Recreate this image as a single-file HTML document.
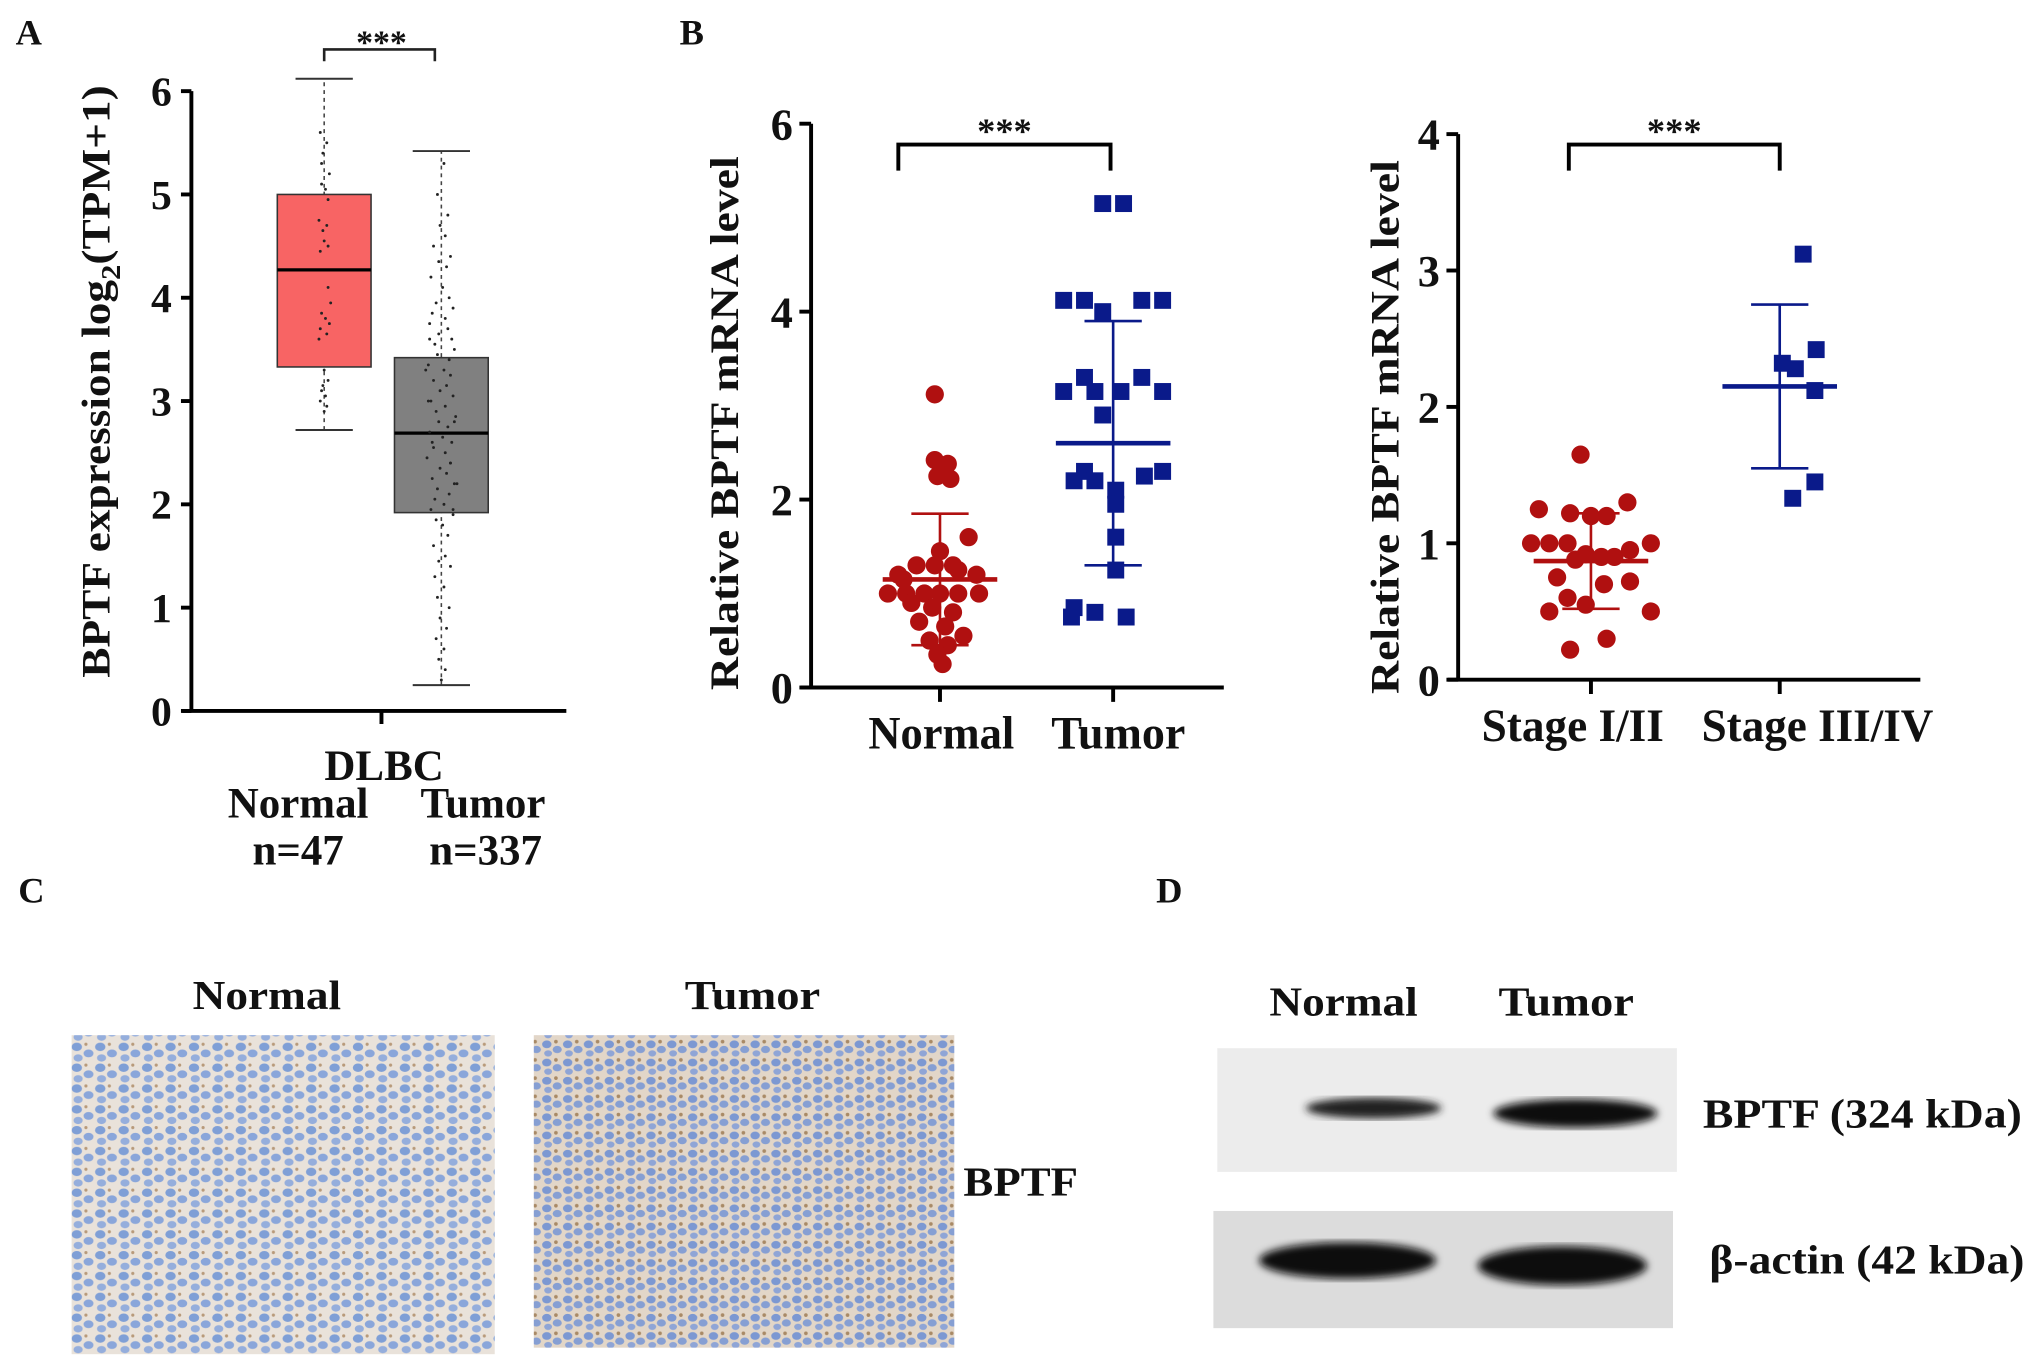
<!DOCTYPE html>
<html><head><meta charset="utf-8"><style>
html,body{margin:0;padding:0;background:#fff;}
svg{display:block;}
text{font-family:"Liberation Serif",serif;font-weight:bold;fill:#111;}
</style></head><body>
<svg id="fig" width="2031" height="1362" viewBox="0 0 1560 1046" preserveAspectRatio="none" xmlns="http://www.w3.org/2000/svg">
<defs>
<pattern id="cells" width="18" height="16" patternUnits="userSpaceOnUse">
<rect width="18" height="16" fill="#e9e2da"/>
<ellipse cx="5" cy="4" rx="4" ry="3.2" fill="#7f9fd6"/>
<ellipse cx="14" cy="9" rx="3.8" ry="3" fill="#8aa6da"/>
<ellipse cx="6" cy="12.5" rx="3.5" ry="2.8" fill="#95aedc"/>
<circle cx="12" cy="2" r="1.2" fill="#b89a7a"/>
</pattern>
<pattern id="cells2" width="16" height="14" patternUnits="userSpaceOnUse">
<rect width="16" height="14" fill="#e2d6c8"/>
<ellipse cx="4" cy="4" rx="3.6" ry="3" fill="#7c98d2"/>
<ellipse cx="12" cy="8" rx="3.5" ry="2.8" fill="#869fd3"/>
<ellipse cx="5" cy="11" rx="3" ry="2.4" fill="#8fa5d6"/>
<circle cx="11" cy="2" r="1.4" fill="#a98a66"/>
</pattern>
<filter id="blur"><feGaussianBlur stdDeviation="3"/></filter>
</defs>
<g id="root"></g>

<text x="12" y="34" font-size="28">A</text>
<text x="522" y="34" font-size="28">B</text>
<text x="14" y="693" font-size="28">C</text>
<text x="888" y="693" font-size="28">D</text>

<!-- C -->
<text x="205" y="775" font-size="32" text-anchor="middle" textLength="114" lengthAdjust="spacingAndGlyphs">Normal</text>
<text x="578" y="775" font-size="32" text-anchor="middle" textLength="104" lengthAdjust="spacingAndGlyphs">Tumor</text>
<rect x="55" y="795" width="325" height="245" fill="url(#cells)"/>
<rect x="410" y="795" width="323" height="240" fill="url(#cells2)"/>
<text x="740" y="918" font-size="32" textLength="88" lengthAdjust="spacingAndGlyphs">BPTF</text>

<!-- D -->
<text x="1032" y="780" font-size="32" text-anchor="middle" textLength="114" lengthAdjust="spacingAndGlyphs">Normal</text>
<text x="1203" y="780" font-size="32" text-anchor="middle" textLength="104" lengthAdjust="spacingAndGlyphs">Tumor</text>
<rect x="935" y="805" width="353" height="95" fill="#ececec"/>
<ellipse cx="1055" cy="851" rx="52" ry="8" fill="#222" filter="url(#blur)"/>
<ellipse cx="1210" cy="855" rx="63" ry="11" fill="#111" filter="url(#blur)"/>
<rect x="932" y="930" width="353" height="90" fill="#dcdcdc"/>
<ellipse cx="1035" cy="968" rx="68" ry="14" fill="#080808" filter="url(#blur)"/>
<ellipse cx="1200" cy="972" rx="65" ry="15" fill="#080808" filter="url(#blur)"/>
<text x="1308" y="866" font-size="32" textLength="245" lengthAdjust="spacingAndGlyphs">BPTF (324 kDa)</text>
<text x="1313" y="978" font-size="32" textLength="242" lengthAdjust="spacingAndGlyphs">β-actin (42 kDa)</text>

<script>
// ---------- Panel A data ----------
const aGroups = ['Normal', 'Tumor'];
const aMedian = [4.27, 2.69];
const aQ1 = [3.33, 1.92];
const aQ3 = [5.0, 3.42];
const aMin = [2.72, 0.25];
const aMax = [6.12, 5.42];
const aNormalPts = [5.6,5.5,5.4,5.2,5.1,5.05,4.95,4.75,4.7,4.65,4.55,4.5,4.45,3.95,3.85,3.8,3.75,3.7,3.65,3.6,3.3,3.2,3.1,3.05,3.0,2.95,2.9,3.15,4.1,5.3];
const aNormalJit = [-3,2,-1,4,-2,1,3,-4,2,-1,0,3,-3,5,-2,1,4,-3,2,-4,0,3,-2,1,-3,2,0,-1,3,-2];
const aTumorPts = [5.3,5.0,4.8,4.7,4.6,4.5,4.4,4.35,4.3,4.2,4.1,4.0,3.95,3.9,3.85,3.8,3.75,3.7,3.65,3.6,3.55,3.5,3.45,3.4,3.35,3.3,3.25,3.2,3.15,3.1,3.05,3.0,2.95,2.9,2.85,2.8,2.75,2.7,2.65,2.6,2.55,2.5,2.45,2.4,2.35,2.3,2.25,2.2,2.15,2.1,2.05,2.0,1.95,1.9,1.85,1.8,1.7,1.6,1.5,1.45,1.4,1.3,1.2,1.1,1.0,0.9,0.8,0.7,0.6,0.5,0.4,0.3,3.0,2.8,2.6,2.4,3.3,2.2,3.6,1.95];
const aTumorJit = [2,-3,5,-1,3,-6,7,-2,4,-8,1,6,-4,9,-7,3,-9,5,-2,8,-5,10,-3,6,-10,2,7,-6,4,-1,9,-8,3,-4,11,-2,5,-9,1,8,-6,3,-11,7,-1,4,-7,10,-3,6,-5,2,-8,9,-4,1,5,-6,3,-2,7,-5,2,-3,6,-1,4,-4,2,-2,3,0,-10,10,-7,7,-12,12,-9,9];
const aTicks = [0,1,2,3,4,5,6];

// ---------- Panel B1 data ----------
const b1Cats = ['Normal', 'Tumor'];
const b1Mean = [1.15, 2.6];
const b1Sd = [0.7, 1.3];
const b1NormalVals = [3.12,2.42,2.38,2.25,2.22,1.6,1.45,1.3,1.3,1.3,1.25,1.2,1.2,1.15,1.0,1.0,1.0,1.0,1.0,1.0,0.9,0.85,0.8,0.7,0.65,0.55,0.5,0.45,0.35,0.25];
const b1NormalOff = [-4,-4,6,-2,8,22,0,-18,-4,10,14,28,-32,-28,-40,-26,-12,0,14,30,-22,-6,10,-16,4,18,-8,6,-2,2];
const b1TumorVals = [5.15,5.15,4.12,4.12,4.12,4.12,4.0,3.3,3.3,3.15,3.15,3.15,3.15,2.9,2.3,2.3,2.25,2.2,2.2,2.1,1.95,1.6,1.25,0.85,0.8,0.75,0.75];
const b1TumorOff = [-8,8,-38,-22,22,38,-8,-22,22,-38,-14,6,38,-8,-22,38,24,-30,-14,2,2,2,2,-30,-14,10,-32];
const b1Ticks = [0,2,4,6];

// ---------- Panel B2 data ----------
const b2Cats = ['Stage I/II', 'Stage III/IV'];
const b2Mean = [0.87, 2.15];
const b2Sd = [0.35, 0.6];
const b2EarlyVals = [1.65,1.3,1.25,1.22,1.2,1.2,1.0,1.0,1.0,1.0,0.95,0.92,0.9,0.9,0.88,0.75,0.72,0.7,0.6,0.55,0.5,0.5,0.3,0.22];
const b2EarlyOff = [-8,28,-40,-16,0,12,-46,-32,-18,46,30,-4,8,18,-12,-26,30,10,-18,-4,-32,46,12,-16];
const b2LateVals = [3.12,2.42,2.32,2.28,2.12,1.45,1.33];
const b2LateOff = [18,28,2,12,27,27,10];
const b2Ticks = [0,1,2,3,4];

const NS = 'http://www.w3.org/2000/svg';
const root = document.getElementById('root');
function mk(tag, attrs, parent) {
  const e = document.createElementNS(NS, tag);
  for (const k in attrs) e.setAttribute(k, attrs[k]);
  (parent || root).appendChild(e);
  return e;
}
function lin(d0, d1, r0, r1) { return v => r0 + (v - d0) * (r1 - r0) / (d1 - d0); }

// ===== Panel A =====
(function () {
  const y = lin(0, 6, 546, 70);
  const xc = [249, 339];
  const boxW = 72;
  const g = mk('g', {});
  
  
  const colors = ['#f86464', '#808080'];
  for (let i = 0; i < aGroups.length; i++) {
    const w = mk('line', { x1: xc[i], x2: xc[i], y1: y(aMin[i]), y2: y(aMax[i]), stroke: '#444', 'stroke-width': 1.2, 'stroke-dasharray': '3,3' }, g);
    
    
    [aMin[i], aMax[i]].forEach(v => {
      const c = mk('line', { x1: xc[i] - 22, x2: xc[i] + 22, y1: y(v), y2: y(v), stroke: '#333', 'stroke-width': 1.5 }, g);
      
      
    });
    const b = mk('rect', { x: xc[i] - boxW / 2, y: y(aQ3[i]), width: boxW, height: y(aQ1[i]) - y(aQ3[i]), fill: colors[i], stroke: '#333', 'stroke-width': 1.2 }, g);
    
    
    const m = mk('line', { x1: xc[i] - boxW / 2, x2: xc[i] + boxW / 2, y1: y(aMedian[i]), y2: y(aMedian[i]), stroke: '#000', 'stroke-width': 2.5 }, g);
    
    
  }
  aNormalPts.forEach((v, i) => {
    const p = mk('circle', { cx: xc[0] + aNormalJit[i], cy: y(v), r: 1.1, fill: '#222' }, g);
    
    
  });
  aTumorPts.forEach((v, i) => {
    const p = mk('circle', { cx: xc[1] + aTumorJit[i], cy: y(v), r: 1.1, fill: '#222' }, g);
    
    
  });
  const ax = mk('path', { d: `M147 ${y(6)} V546 M140 546 H435 M293 546 V556`, stroke: '#000', 'stroke-width': 3, fill: 'none' }, g);
  
  
  aTicks.forEach(t => {
    const l = mk('line', { x1: 139, x2: 147, y1: y(t), y2: y(t), stroke: '#000', 'stroke-width': 3 }, g);
    
    
    const tx = mk('text', { x: 132, y: y(t) + 11, 'font-size': 32, 'text-anchor': 'end' }, g);
    tx.textContent = t;
    
    
  });
  const br = mk('path', { d: `M249 47 V38 H334 V47`, stroke: '#222', 'stroke-width': 2, fill: 'none' }, g);
  
  
  const st = mk('text', { x: 293, y: 41, 'font-size': 26, 'text-anchor': 'middle' }, g);
  st.textContent = '***';
  
  
  const lbls = [['DLBC', 295, 599, 'x-axis-category'], ['Normal', 229, 628, 'group-label-normal'], ['Tumor', 371, 628, 'group-label-tumor'], ['n=47', 229, 664, 'n-normal'], ['n=337', 373, 664, 'n-tumor']];
  lbls.forEach(L => {
    const t = mk('text', { x: L[1], y: L[2], 'font-size': 33, 'text-anchor': 'middle' }, g);
    t.textContent = L[0];
    
    
  });
  const yt = mk('text', { x: 0, y: 0, 'font-size': 31, 'text-anchor': 'middle', transform: 'translate(84,293) rotate(-90)', textLength: 455, lengthAdjust: 'spacingAndGlyphs' }, g);
  
  
  const t1 = mk('tspan', {}, yt); t1.textContent = 'BPTF expression log';
  const t2 = mk('tspan', { 'font-size': 21, dy: 8 }, yt); t2.textContent = '2';
  const t3 = mk('tspan', { dy: -8 }, yt); t3.textContent = '(TPM+1)';
})();

// ===== scatter panels =====
function scatterPanel(o) {
  const y = lin(0, o.ymax, o.y0, o.y1);
  const g = mk('g', {});
  
  
  const ax = mk('path', { d: `M${o.ax} ${o.y1} V${o.y0} M${o.ax - 8} ${o.y0} H${o.axEnd} M${o.xc[0]} ${o.y0} V${o.y0 + 11} M${o.xc[1]} ${o.y0} V${o.y0 + 11}`, stroke: '#000', 'stroke-width': 3, fill: 'none' }, g);
  
  
  o.ticks.forEach(t => {
    const l = mk('line', { x1: o.ax - 9, x2: o.ax, y1: y(t), y2: y(t), stroke: '#000', 'stroke-width': 3 }, g);
    
    
    const tx = mk('text', { x: o.ax - 14, y: y(t) + 12, 'font-size': 34, 'text-anchor': 'end' }, g);
    tx.textContent = t;
    
    
  });
  o.cats.forEach((c, i) => {
    const tx = mk('text', { x: o.catX[i], y: o.y0 + 47, 'font-size': 36, 'text-anchor': 'middle', textLength: o.catW[i], lengthAdjust: 'spacingAndGlyphs' }, g);
    tx.textContent = c;
    
    
  });
  const yt = mk('text', { x: 0, y: 0, 'font-size': 31, 'text-anchor': 'middle', transform: `translate(${o.ytx},${o.ytc}) rotate(-90)`, textLength: o.ytl, lengthAdjust: 'spacingAndGlyphs' }, g);
  yt.textContent = 'Relative BPTF mRNA level';
  
  
  const cols = ['#b01010', '#0a1a8a'];
  o.vals[0].forEach((v, i) => {
    const p = mk('circle', { cx: o.xc[0] + o.offs[0][i], cy: y(v), r: 7, fill: cols[0] }, g);
    
    
  });
  o.vals[1].forEach((v, i) => {
    const p = mk('rect', { x: o.xc[1] + o.offs[1][i] - 6.5, y: y(v) - 6.5, width: 13, height: 13, fill: cols[1] }, g);
    
    
  });
  for (let i = 0; i < 2; i++) {
    const c = cols[i], x = o.xc[i];
    const mn = mk('line', { x1: x - 44, x2: x + 44, y1: y(o.mean[i]), y2: y(o.mean[i]), stroke: c, 'stroke-width': 3.5 }, g);
    
    
    const sd = mk('path', { d: `M${x} ${y(o.mean[i] - o.sd[i])} V${y(o.mean[i] + o.sd[i])} M${x - 22} ${y(o.mean[i] - o.sd[i])} H${x + 22} M${x - 22} ${y(o.mean[i] + o.sd[i])} H${x + 22}`, stroke: c, 'stroke-width': 2, fill: 'none' }, g);
    
    
  }
  const br = mk('path', { d: `M${o.br[0]} 131 V111 H${o.br[1]} V131`, stroke: '#000', 'stroke-width': 3, fill: 'none' }, g);
  
  
  const st = mk('text', { x: (o.br[0] + o.br[1]) / 2, y: 110, 'font-size': 28, 'text-anchor': 'middle' }, g);
  st.textContent = '***';
  
  
}
scatterPanel({ name: 'panel-b-normal-tumor', ymax: 6, y0: 528, y1: 95, ax: 623, axEnd: 940, xc: [722, 855], ticks: b1Ticks, cats: b1Cats,
  catX: [723, 859], catW: [112, 103], ytx: 567, ytc: 325, ytl: 410,
  vals: [b1NormalVals, b1TumorVals], offs: [b1NormalOff, b1TumorOff], mean: b1Mean, sd: b1Sd, keys: ['normal', 'tumor'], br: [690, 853] });
scatterPanel({ name: 'panel-b-stage', ymax: 4, y0: 522, y1: 103, ax: 1120, axEnd: 1475, xc: [1222, 1367], ticks: b2Ticks, cats: b2Cats,
  catX: [1208, 1396], catW: [140, 178], ytx: 1074, ytc: 328, ytl: 410,
  vals: [b2EarlyVals, b2LateVals], offs: [b2EarlyOff, b2LateOff], mean: b2Mean, sd: b2Sd, keys: ['stage-i-ii', 'stage-iii-iv'], br: [1205, 1367] });
</script>
</svg>
</body></html>
